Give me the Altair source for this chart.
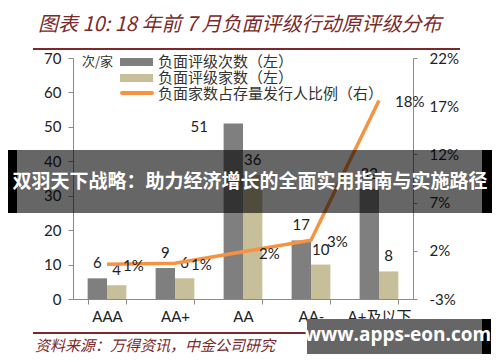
import altair as alt
import pandas as pd

categories = ["AAA", "AA+", "AA", "AA-", "A+及以下"]
rating_actions = [6, 9, 51, 17, 32]          # 负面评级次数（左）
rating_issuers = [4, 6, 36, 10, 8]           # 负面评级家数（左）
issuer_share = [0.6, 0.7, 1.9, 3.1, 17.6]    # 负面家数占存量发行人比例（右），%
left_ticks = [0, 10, 20, 30, 40, 50, 60, 70]
right_ticks = [-3, 2, 7, 12, 17, 22]

s1 = "负面评级次数（左）"
s2 = "负面评级家数（左）"
s3 = "负面家数占存量发行人比例（右）"

bars = pd.DataFrame({
    "cat": categories * 2,
    "series": [s1] * 5 + [s2] * 5,
    "value": rating_actions + rating_issuers,
})
line_df = pd.DataFrame({"cat": categories, "share": issuer_share})

NUM = "Lato, Noto Sans CJK SC"
CJK = "Noto Sans CJK SC"
DARKRED = "#7a2a2a"
AXC = "#8a8a8a"

# plot area origin in page coords: (73, 58)
def px(v):
    return v - 73

def py(v):
    return v - 58

xscale = alt.Scale(domain=categories, paddingInner=0.43, paddingOuter=0.215)
X = alt.X("cat:N", scale=xscale, sort=categories,
          axis=alt.Axis(title=None, labelAngle=0, labelFont=NUM, labelFontSize=15,
                        labelColor="#222", tickBand="extent", tickSize=5, tickColor=AXC,
                        domainColor=AXC, labelPadding=5, grid=False))
XO = alt.XOffset("series:N", sort=[s1, s2], scale=alt.Scale(domain=[s1, s2], paddingInner=0, paddingOuter=0))
YL = alt.Y("value:Q", scale=alt.Scale(domain=[0, 70]),
           axis=alt.Axis(title=None, values=left_ticks, grid=False, labelFont=NUM,
                         labelFontSize=15, labelColor="#222", tickSize=5, tickColor=AXC,
                         domainColor=AXC, labelPadding=7))
YR = alt.Y("share:Q", scale=alt.Scale(domain=[-3, 22]),
           axis=alt.Axis(title=None, orient="right", values=right_ticks, grid=False,
                         labelExpr="datum.value + '%'", labelFont=NUM, labelFontSize=15,
                         labelColor="#222", tickSize=4, tickColor=AXC, domainColor=AXC,
                         labelPadding=12))

bar = alt.Chart(bars).mark_bar().encode(
    x=X, xOffset=XO, y=YL,
    color=alt.Color("series:N", scale=alt.Scale(domain=[s1, s2], range=["#7f7f7f", "#c6bf9a"]), legend=None),
)
bar_text = alt.Chart(bars).transform_filter("datum.value != 51").mark_text(
    dy=-15, fontSize=15, font=NUM, color="#222", baseline="middle"
).encode(x=X, xOffset=XO, y=YL, text="value:Q")
bar_text51 = alt.Chart(bars).transform_filter("datum.value == 51").mark_text(
    dx=-34, dy=4, fontSize=15, font=NUM, color="#222", baseline="middle"
).encode(x=X, xOffset=XO, y=YL, text="value:Q")

line = alt.Chart(line_df).mark_line(color="#f59342", strokeWidth=3.5).encode(x=X, y=YR)
line_text = alt.Chart(line_df).transform_calculate(
    label="format(round(datum.share), 'd') + '%'"
).mark_text(align="left", dx=16, dy=2, fontSize=15, font=NUM, color="#222", baseline="middle").encode(
    x=X, y=YR, text="label:N")

left = alt.layer(bar, bar_text, bar_text51)
right = alt.layer(line, line_text)

one = pd.DataFrame({"k": [0]})

def rect(x1, x2, y1, y2, color, opacity=1.0):
    return alt.Chart(one).mark_rect(color=color, opacity=opacity).encode(
        x=alt.value(px(x1)), x2=alt.value(px(x2)), y=alt.value(py(y1)), y2=alt.value(py(y2)))

def hline(x1, x2, y, color, width):
    return alt.Chart(one).mark_rule(color=color, strokeWidth=width).encode(
        x=alt.value(px(x1)), x2=alt.value(px(x2)), y=alt.value(py(y)))

def label(x, y, txt, size, color, font=CJK, align="left", weight="normal", style="normal"):
    return alt.Chart(one).mark_text(align=align, baseline="middle", fontSize=size, font=font,
                                    color=color, fontWeight=weight, fontStyle=style).encode(
        x=alt.value(px(x)), y=alt.value(py(y)), text=alt.value(txt))

deco = [
    label(38, 25, "图表 10: 18 年前 7 月负面评级行动原评级分布", 20, DARKRED, style="italic"),
    hline(33, 460, 49, DARKRED, 2),
    label(82, 62, "次/家", 13, "#333"),
    rect(120, 153, 58, 66, "#7f7f7f"),
    rect(120, 153, 74, 82, "#c6bf9a"),
    alt.Chart(one).mark_rule(color="#f59342", strokeWidth=4, strokeCap="round").encode(
        x=alt.value(px(122)), x2=alt.value(px(152)), y=alt.value(py(93))),
    label(158, 62, s1, 15, "#333"),
    label(158, 78, s2, 15, "#333"),
    label(158, 94, s3, 15, "#333"),
    hline(33, 460, 333, DARKRED, 2),
    label(35, 346, "资料来源：万得资讯，中金公司研究", 15, DARKRED, style="italic"),
    # overlays present in the reference image
    rect(17, 482, 150, 213, "#000000", 0.6),
    rect(8, 17, 150, 213, "#000000"),
    rect(482, 492, 150, 213, "#000000"),
    label(250, 182, "双羽天下战略：助力经济增长的全面实用指南与实施路径", 19, "#ffffff",
          align="center", weight="bold"),
    rect(307, 482, 319, 362, "#666666"),
    rect(482, 491, 319, 362, "#000000"),
    label(398, 335, "www.apps-eon.com", 19, "#ffffff", font="Open Sans", align="center", weight="bold"),
]

chart = alt.layer(left, right, *deco).resolve_scale(y="independent").properties(
    width=340, height=241,
    padding={"left": 65, "top": 50, "right": 79, "bottom": 55},
    autosize=alt.AutoSizeParams(type="none"),
    background="white",
).configure_view(stroke=None)

chart.save("out.html", embed_options={"renderer": "svg", "actions": False})
